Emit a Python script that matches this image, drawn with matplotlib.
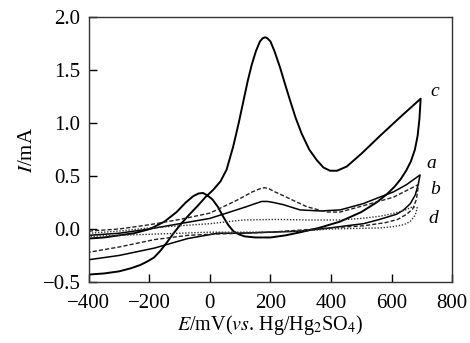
import matplotlib
matplotlib.use("Agg")
import matplotlib.pyplot as plt

plt.rcParams['font.family'] = ['Liberation Serif', 'DejaVu Serif']
plt.rcParams['mathtext.fontset'] = 'stix'

# curve c (thick solid): forward then reverse scan
c_E = [-400, -350, -300, -260, -230, -209, -185, -165, -143, -120, -95, -70, -40, -15, 11, 35, 55, 77,
       95, 110, 125, 138, 152, 165, 174, 182, 190, 200, 213, 231, 250, 264, 283, 303, 328, 353, 375,
       397, 420, 452, 500, 562, 630, 696,
       692, 686, 677, 664, 648, 630, 610, 585, 550, 500, 430, 360, 300, 250, 200, 150, 115, 95, 77,
       60, 45, 26, 8, -10, -23, -38, -55, -80, -110, -150, -198, -250, -300, -350, -400]
c_I = [-0.43, -0.42, -0.40, -0.37, -0.34, -0.31, -0.27, -0.21, -0.13, -0.04, 0.05, 0.13, 0.22, 0.30, 0.37, 0.45, 0.56, 0.78,
       1.00, 1.20, 1.40, 1.55, 1.68, 1.77, 1.80, 1.81, 1.80, 1.77, 1.68, 1.53, 1.35, 1.22, 1.05, 0.90, 0.75, 0.65, 0.58,
       0.55, 0.55, 0.59, 0.71, 0.88, 1.06, 1.23,
       1.04, 0.88, 0.75, 0.64, 0.55, 0.47, 0.40, 0.33, 0.25, 0.16, 0.07, 0.01, -0.03, -0.06, -0.08, -0.08, -0.07, -0.05, -0.02,
       0.04, 0.11, 0.21, 0.28, 0.32, 0.34, 0.335, 0.31, 0.25, 0.16, 0.07, 0.0, -0.04, -0.06, -0.08, -0.09]

# curve a (solid)
a_E = [-400, -300, -200, -100, 0, 66, 120, 150, 171, 190, 210, 242, 298, 364, 430, 507, 560, 606, 650, 694,
       688, 678, 662, 640, 617, 560, 507, 450, 397, 300, 200, 100, 26, -73, -183, -300, -400]
a_I = [-0.06, -0.04, 0.0, 0.05, 0.10, 0.16, 0.21, 0.24, 0.26, 0.26, 0.25, 0.23, 0.18, 0.17, 0.18, 0.24, 0.30, 0.35, 0.42, 0.51,
       0.42, 0.32, 0.24, 0.18, 0.14, 0.09, 0.05, 0.03, 0.01, -0.02, -0.03, -0.04, -0.04, -0.09, -0.18, -0.25, -0.29]

# curve b (dashed)
b_E = [-400, -300, -200, -100, 0, 88, 140, 165, 180, 195, 215, 253, 320, 386, 430, 507, 606, 689,
       682, 670, 650, 620, 580, 507, 397, 300, 200, 100, 0, -73, -183, -300, -400]
b_I = [-0.02, 0.0, 0.04, 0.09, 0.15, 0.27, 0.35, 0.38, 0.39, 0.38, 0.35, 0.30, 0.21, 0.16, 0.16, 0.22, 0.30, 0.42,
       0.28, 0.19, 0.14, 0.09, 0.06, 0.03, 0.01, -0.01, -0.03, -0.04, -0.05, -0.06, -0.10, -0.17, -0.22]

# curve d (dotted)
d_E = [-400, -300, -200, -100, 0, 110, 220, 330, 430, 500, 562, 610, 645, 670, 685,
       678, 661, 640, 600, 562, 397, 300, 200, 100, 0, -100, -200, -300, -400]
d_I = [-0.04, -0.02, 0.01, 0.03, 0.05, 0.085, 0.09, 0.085, 0.085, 0.10, 0.12, 0.15, 0.18, 0.21, 0.20,
       0.13, 0.07, 0.04, 0.02, 0.01, 0.0, -0.02, -0.03, -0.03, -0.03, -0.04, -0.05, -0.06, -0.07]

labels = ['a', 'b', 'c', 'd']
label_E = [716, 727, 727, 722]
label_I = [0.62, 0.37, 1.30, 0.10]

fig = plt.figure(figsize=(4.7, 3.43), dpi=100)
ax = fig.add_axes([0.189, 0.178, 0.773, 0.772])

ax.plot(c_E, c_I, color='black', lw=1.4)
ax.plot(a_E, a_I, color='black', lw=1.1)
ax.plot(b_E, b_I, color='#222222', lw=1.0, ls=(0, (3, 1.5)))
ax.plot(d_E, d_I, color='#333333', lw=1.0, ls=(0, (1, 1.2)))

for t, x, y in zip(labels, label_E, label_I):
    ax.text(x, y, t, fontsize=14, fontstyle='italic', ha='left', va='center')

ax.set_xlim(-400, 800)
ax.set_ylim(-0.5, 2.0)
ax.set_xticks([-400, -200, 0, 200, 400, 600, 800])
ax.set_yticks([-0.5, 0.0, 0.5, 1.0, 1.5, 2.0])
ax.set_yticklabels(['\u22120.5', '0.0', '0.5', '1.0', '1.5', '2.0'])
ax.tick_params(direction='in', length=6, width=1.0, labelsize=15, colors='black')
ax.tick_params(axis='x', pad=9)
ax.tick_params(axis='y', pad=6)
for s in ax.spines.values():
    s.set_linewidth(1.0)
    s.set_color('#333333')

ax.set_xlabel(r'$E$/mV($vs$. Hg/Hg$_2$SO$_4$)', fontsize=14.5, labelpad=0)
ax.set_ylabel(r'$I$/mA', fontsize=15, labelpad=4)

fig.savefig('out.png', dpi=100)
